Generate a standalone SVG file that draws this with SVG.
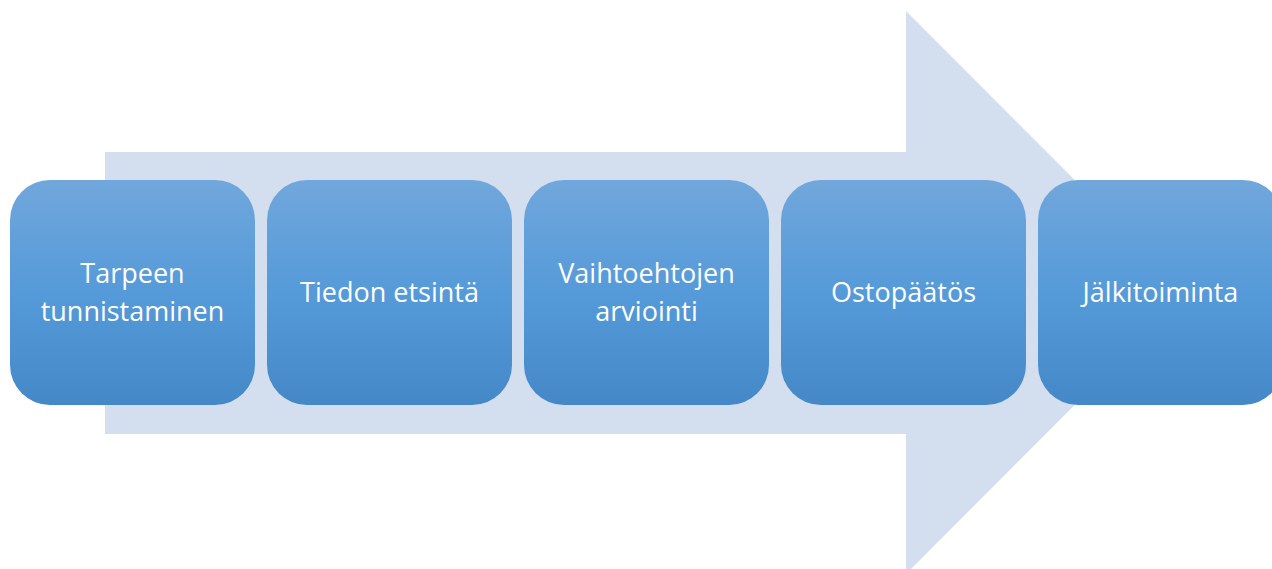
<svg xmlns="http://www.w3.org/2000/svg" width="1272" height="569" viewBox="0 0 1272 569">
<defs>
<linearGradient id="g" x1="0" y1="0" x2="0" y2="1">
<stop offset="0" stop-color="#71a7dc"/>
<stop offset="0.5" stop-color="#559ad9"/>
<stop offset="1" stop-color="#4488c8"/>
</linearGradient>
</defs>
<style>
.box{fill:url(#g);}
.t{fill:#ffffff;font-family:"Open Sans","Liberation Sans",sans-serif;font-size:27px;text-anchor:middle;}
</style>
<g id="arrow">
<polygon points="105,152 906,152 906,11 1187,292.5 906,574 906,434 105,434" fill="#d3deef"/>
</g>
<g id="connectors"></g>
<g id="n1"><rect class="box" x="10" y="180" width="245" height="225" rx="40"/><text class="t" x="132.5" y="283">Tarpeen</text><text class="t" x="132.5" y="320.5">tunnistaminen</text></g>
<g id="n2"><rect class="box" x="267" y="180" width="245" height="225" rx="40"/><text class="t" x="389.5" y="302">Tiedon etsintä</text></g>
<g id="n3"><rect class="box" x="524" y="180" width="245" height="225" rx="40"/><text class="t" x="646.5" y="283">Vaihtoehtojen</text><text class="t" x="646.5" y="320.5">arviointi</text></g>
<g id="n4"><rect class="box" x="781" y="180" width="245" height="225" rx="40"/><text class="t" x="903.5" y="302">Ostopäätös</text></g>
<g id="n5"><rect class="box" x="1038" y="180" width="245" height="225" rx="40"/><text class="t" x="1160.5" y="302">Jälkitoiminta</text></g>
</svg>
